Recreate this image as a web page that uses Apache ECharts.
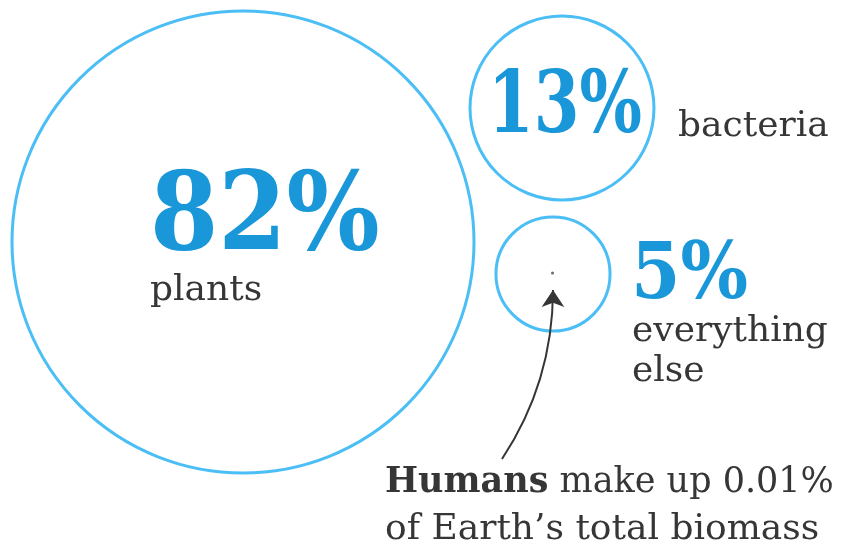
<!DOCTYPE html>
<html>
<head>
<meta charset="utf-8">
<script src="https://cdn.jsdelivr.net/npm/echarts@6/dist/echarts.min.js"></script>
<style>html,body{margin:0;padding:0;background:#fff;}#c{width:843px;height:550px;}</style>
</head>
<body>
<div id="c"></div>
<script>
// Data
var categories = ['plants', 'bacteria', 'everything else'];
var shares = [82, 13, 5];              // % of Earth's biomass
var humanShare = 0.01;                 // % of Earth's biomass
// packed-bubble layout centres (chart units)
var centreX = [243, 562, 553];
var centreY = [242, 108, 274];
var nameLines = [['plants'], ['bacteria'], ['everything', 'else']];
var noteLine1 = ['Humans', ' make up ' + humanShare.toFixed(2) + '%'];
var noteLine2 = 'of Earth\u2019s total biomass';

var BLUE_LINE = '#1eaef2';
var BLUE_TEXT = '#1a97d9';
var DARK = '#363636';
var BIG = '"DejaVu Serif Condensed", "DejaVu Serif", serif';
var BODY = '"DejaVu Serif", serif';

var chart = echarts.init(document.getElementById('c'));
var k = 462 / Math.sqrt(82); // diameter scale: area proportional to share

var bubbles = categories.map(function (c, i) {
  return { name: c, value: [centreX[i], centreY[i], shares[i]] };
});

function txt(x, y, s, font, fill, extra) {
  var o = { type: 'text', x: x, y: y, silent: true,
    style: { text: s, font: font, fill: fill, align: 'left', verticalAlign: 'top' } };
  if (extra) { for (var key in extra) o[key] = extra[key]; }
  return o;
}

chart.setOption({
  animation: false,
  grid: { left: 0, right: 0, top: 0, bottom: 0 },
  xAxis: { type: 'value', min: 0, max: 843, show: false },
  yAxis: { type: 'value', min: 0, max: 550, inverse: true, show: false },
  series: [
    {
      type: 'scatter',
      data: bubbles,
      symbol: 'circle',
      symbolSize: function (v) { return k * Math.sqrt(v[2]); },
      itemStyle: { color: 'rgba(0,0,0,0)', borderColor: BLUE_LINE, borderWidth: 3 },
      silent: true, z: 2
    },
    {
      type: 'scatter',
      data: [[centreX[2] - 0.5, centreY[2] - 1, humanShare]],
      symbol: 'circle',
      symbolSize: 3,
      itemStyle: { color: '#444' },
      silent: true, z: 3
    },
    {
      type: 'lines',
      coordinateSystem: 'cartesian2d',
      data: [{ coords: [[502, 459], [553, 290]] }],
      symbol: ['none', 'arrow'],
      symbolSize: [14, 17],
      lineStyle: { color: DARK, width: 2, curveness: -0.15, opacity: 1 },
      silent: true, z: 4
    }
  ],
  graphic: [
    txt(150, 166, shares[0] + '%', 'bold 109px ' + BIG, BLUE_TEXT),
    txt(150, 273, nameLines[0][0], '36px ' + BODY, DARK),
    txt(488, 67, shares[1] + '%', 'bold 86px ' + BIG, BLUE_TEXT, { scaleX: 0.85 }),
    txt(678, 109, nameLines[1][0], '36px ' + BODY, DARK),
    txt(631, 238, shares[2] + '%', 'bold 79px ' + BIG, BLUE_TEXT),
    txt(632, 314, nameLines[2][0], '36px ' + BODY, DARK),
    txt(632, 354, nameLines[2][1], '36px ' + BODY, DARK),
    { type: 'text', x: 385, y: 465, silent: true, style: {
        text: '{b|' + noteLine1[0] + '}' + noteLine1[1], font: '35px ' + BODY, fill: DARK,
        align: 'left', verticalAlign: 'top',
        rich: { b: { fontWeight: 'bold', fontSize: 35, fontFamily: BODY, fill: DARK } } } },
    txt(385, 512, noteLine2, '36px ' + BODY, DARK)
  ]
});
</script>
</body>
</html>
